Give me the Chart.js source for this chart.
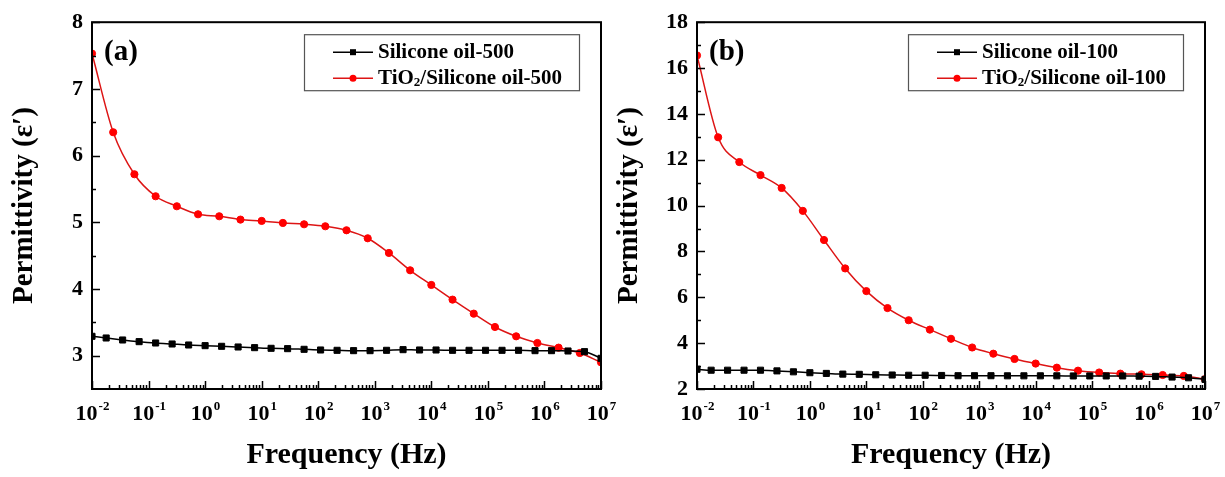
<!DOCTYPE html>
<html>
<head>
<meta charset="utf-8">
<script src="https://cdn.jsdelivr.net/npm/chart.js@4.4.1/dist/chart.umd.min.js"></script>
<style>
    html, body { margin: 0; padding: 0; background: #fff; }
    #wrap { position: relative; width: 1225px; height: 477px; }
    #chartA { position: absolute; left: 0; top: 0; }
    #chartB { position: absolute; left: 605px; top: 0; }
</style>
</head>
<body>
<div id="wrap">
    <canvas id="chartA" width="625" height="477"></canvas>
    <canvas id="chartB" width="620" height="477"></canvas>
</div>
<script>
/* =========================
   DATOS
========================= */
const FONT = "'Liberation Serif', 'Times New Roman', serif";

// frecuencias (Hz) - silicone oil (cuadrados)
const freqOil = [
    0.01, 0.0178, 0.0348, 0.0681, 0.1334, 0.261, 0.511, 1, 1.957, 3.831,
    7.499, 14.68, 28.73, 56.23, 110.1, 215.4, 421.7, 825.4, 1616, 3162,
    6190, 12115, 23714, 46416, 90852, 177828, 348070, 681292, 1333521, 2610157,
    5108970, 10000000
];

// frecuencias (Hz) - TiO2/silicone oil (circulos)
const freqTio2 = [
    0.01, 0.0237, 0.0562, 0.1334, 0.316, 0.75, 1.778, 4.217, 10, 23.71,
    56.23, 133.4, 316.2, 749.9, 1778, 4217, 10000, 23714, 56234, 133352,
    316228, 749894, 1778279, 4216965, 10000000
];

// (a)
const permOil500 = [
    3.29, 3.265, 3.235, 3.21, 3.19, 3.175, 3.16, 3.15, 3.14, 3.13,
    3.12, 3.11, 3.105, 3.095, 3.085, 3.08, 3.075, 3.075, 3.08, 3.09,
    3.085, 3.085, 3.08, 3.08, 3.08, 3.08, 3.08, 3.075, 3.075, 3.07,
    3.06, 2.96
];
const permTio2Oil500 = [
    7.53, 6.35, 5.72, 5.39, 5.24, 5.12, 5.09, 5.04, 5.02, 4.99,
    4.97, 4.94, 4.88, 4.76, 4.54, 4.28, 4.06, 3.84, 3.63, 3.43,
    3.29, 3.19, 3.12, 3.04, 2.9
];

// (b)
const permOil100 = [
    2.86, 2.82, 2.82, 2.82, 2.82, 2.79, 2.75, 2.71, 2.68, 2.65,
    2.64, 2.62, 2.61, 2.6, 2.6, 2.59, 2.58, 2.58, 2.58, 2.575,
    2.575, 2.575, 2.575, 2.57, 2.57, 2.57, 2.57, 2.56, 2.55, 2.52,
    2.49, 2.42
];
const permTio2Oil100 = [
    16.55, 12.98, 11.9, 11.33, 10.77, 9.77, 8.5, 7.26, 6.27, 5.53,
    5.0, 4.59, 4.19, 3.81, 3.54, 3.31, 3.11, 2.93, 2.8, 2.72,
    2.67, 2.64, 2.61, 2.57, 2.43
];

// ejes
const xTickValues = [1e-2, 1e-1, 1e0, 1e1, 1e2, 1e3, 1e4, 1e5, 1e6, 1e7];
const xTickBase = "10";
const xTickExponents = ["-2", "-1", "0", "1", "2", "3", "4", "5", "6", "7"];
const yTicksA = [3, 4, 5, 6, 7, 8];
const yMinorA = [3.5, 4.5, 5.5, 6.5, 7.5];
const yTicksB = [2, 4, 6, 8, 10, 12, 14, 16, 18];
const yMinorB = [3, 5, 7, 9, 11, 13, 15, 17];

/* =========================
   UTILIDADES
========================= */
function toPoints(xs, ys) {
    return xs.map((x, i) => ({ x: x, y: ys[i] }));
}

// texto con subindice (TiO₂)
function drawRichText(ctx, text, x, y, size) {
    const parts = text.split("₂");
    ctx.font = `bold ${size}px ${FONT}`;
    ctx.fillText(parts[0], x, y);
    let cx = x + ctx.measureText(parts[0]).width;
    if (parts.length > 1) {
        ctx.font = `bold ${Math.round(size * 0.62)}px ${FONT}`;
        ctx.fillText("2", cx, y + size * 0.22);
        cx += ctx.measureText("2").width;
        ctx.font = `bold ${size}px ${FONT}`;
        ctx.fillText(parts[1], cx, y);
    }
}

/* =========================
   MARCO, TICKS, ETIQUETAS, LEYENDA
========================= */
const originStyle = {
    id: "originStyle",
    afterDraw(chart, args, opts) {
        const { ctx, chartArea: ca, scales } = chart;
        const xs = scales.x;
        const ys = scales.y;

        ctx.save();
        ctx.strokeStyle = "#000";
        ctx.lineWidth = 1.5;

        // ticks hacia adentro - eje x
        ctx.beginPath();
        xTickValues.forEach((v, i) => {
            const px = Math.round(xs.getPixelForValue(v)) + 0.5;
            ctx.moveTo(px, ca.bottom);
            ctx.lineTo(px, ca.bottom - 8);
            if (i < xTickValues.length - 1) {
                for (let m = 2; m <= 9; m++) {
                    const mx = Math.round(xs.getPixelForValue(v * m)) + 0.5;
                    ctx.moveTo(mx, ca.bottom);
                    ctx.lineTo(mx, ca.bottom - 4);
                }
            }
        });

        // ticks hacia adentro - eje y
        opts.yMajor.forEach(v => {
            const py = Math.round(ys.getPixelForValue(v)) + 0.5;
            ctx.moveTo(ca.left, py);
            ctx.lineTo(ca.left + 8, py);
        });
        opts.yMinor.forEach(v => {
            const py = Math.round(ys.getPixelForValue(v)) + 0.5;
            ctx.moveTo(ca.left, py);
            ctx.lineTo(ca.left + 4, py);
        });
        ctx.stroke();

        // marco
        ctx.lineWidth = 2;
        ctx.strokeRect(ca.left, ca.top, ca.right - ca.left, ca.bottom - ca.top);

        // etiquetas eje x: 10 con exponente
        ctx.fillStyle = "#000";
        ctx.textAlign = "left";
        ctx.textBaseline = "alphabetic";
        xTickValues.forEach((v, i) => {
            const px = xs.getPixelForValue(v);
            ctx.font = `bold 22px ${FONT}`;
            const wb = ctx.measureText(xTickBase).width;
            ctx.font = `bold 13px ${FONT}`;
            const we = ctx.measureText(xTickExponents[i]).width;
            const x0 = px - (wb + we) / 2;
            ctx.font = `bold 22px ${FONT}`;
            ctx.fillText(xTickBase, x0, ca.bottom + 31);
            ctx.font = `bold 13px ${FONT}`;
            ctx.fillText(xTickExponents[i], x0 + wb + 1, ca.bottom + 21);
        });

        // etiqueta del panel
        ctx.textBaseline = "middle";
        ctx.font = `bold 29px ${FONT}`;
        ctx.fillText(opts.tag, ca.left + 12, ca.top + 30);

        // leyenda
        const box = { x: ca.right - 297, y: ca.top + 12, w: 275, h: 56 };
        ctx.lineWidth = 1.2;
        ctx.strokeStyle = "#555";
        ctx.strokeRect(box.x + 0.5, box.y + 0.5, box.w, box.h);

        chart.data.datasets.forEach((ds, i) => {
            const cy = box.y + 18 + i * 26;
            const mx = box.x + 49;

            ctx.strokeStyle = ds.borderColor;
            ctx.lineWidth = 1.5;
            ctx.beginPath();
            ctx.moveTo(box.x + 29, cy);
            ctx.lineTo(box.x + 69, cy);
            ctx.stroke();

            ctx.fillStyle = ds.pointBackgroundColor;
            if (ds.pointStyle === "rect") {
                ctx.fillRect(mx - 3, cy - 3, 6, 6);
            } else {
                ctx.beginPath();
                ctx.arc(mx, cy, 3.5, 0, Math.PI * 2);
                ctx.fill();
            }

            ctx.fillStyle = "#000";
            drawRichText(ctx, ds.label, box.x + 74, cy, 21);
        });

        ctx.restore();
    }
};

/* =========================
   GRAFICO
========================= */
function buildChart(canvasId, cfg) {
    const ctx = document.getElementById(canvasId).getContext("2d");

    return new Chart(ctx, {
        type: "line",
        data: {
            datasets: [
                {
                    label: cfg.oilLabel,
                    data: toPoints(freqOil, cfg.oil),
                    borderColor: "#000000",
                    backgroundColor: "#000000",
                    pointBackgroundColor: "#000000",
                    pointBorderColor: "#000000",
                    pointStyle: "rect",
                    pointRadius: 4.3,
                    pointBorderWidth: 1,
                    borderWidth: 1.5,
                    cubicInterpolationMode: "monotone"
                },
                {
                    label: cfg.tio2Label,
                    data: toPoints(freqTio2, cfg.tio2),
                    borderColor: "#dd1515",
                    backgroundColor: "#ff0000",
                    pointBackgroundColor: "#ff0000",
                    pointBorderColor: "#ff0000",
                    pointStyle: "circle",
                    pointRadius: 3.6,
                    pointBorderWidth: 1,
                    borderWidth: 1.5,
                    cubicInterpolationMode: "monotone"
                }
            ]
        },
        options: {
            responsive: false,
            animation: false,
            layout: {
                autoPadding: false,
                padding: { top: 14, right: cfg.padRight, left: 0, bottom: 0 }
            },
            plugins: {
                legend: { display: false },
                tooltip: { enabled: false },
                originStyle: {
                    tag: cfg.tag,
                    yMajor: cfg.yTicks,
                    yMinor: cfg.yMinor
                }
            },
            scales: {
                x: {
                    type: "logarithmic",
                    min: 1e-2,
                    max: 1e7,
                    afterBuildTicks: scale => {
                        scale.ticks = xTickValues.map(v => ({ value: v }));
                    },
                    afterFit: scale => { scale.height = 88; },
                    grid: { display: false, drawTicks: false },
                    border: { display: false },
                    ticks: { display: false },
                    title: {
                        display: true,
                        text: "Frequency (Hz)",
                        color: "#000",
                        font: { family: FONT, size: 30, weight: "bold" },
                        padding: { top: 0, bottom: 4 }
                    }
                },
                y: {
                    type: "linear",
                    min: cfg.yMin,
                    max: cfg.yMax,
                    afterBuildTicks: scale => {
                        scale.ticks = cfg.yTicks.map(v => ({ value: v }));
                    },
                    afterFit: scale => { scale.width = 92; },
                    grid: { display: false, drawTicks: false },
                    border: { display: false },
                    ticks: {
                        color: "#000",
                        padding: 9,
                        font: { family: FONT, size: 22, weight: "bold" }
                    },
                    title: {
                        display: true,
                        text: "Permittivity (ε′)",
                        color: "#000",
                        font: { family: FONT, size: 29, weight: "bold" },
                        padding: { top: 7, bottom: 0 }
                    }
                }
            }
        },
        plugins: [originStyle]
    });
}

buildChart("chartA", {
    tag: "(a)",
    oil: permOil500,
    tio2: permTio2Oil500,
    oilLabel: "Silicone oil-500",
    tio2Label: "TiO₂/Silicone oil-500",
    yMin: 2.5,
    yMax: 8,
    yTicks: yTicksA,
    yMinor: yMinorA,
    padRight: 24
});

buildChart("chartB", {
    tag: "(b)",
    oil: permOil100,
    tio2: permTio2Oil100,
    oilLabel: "Silicone oil-100",
    tio2Label: "TiO₂/Silicone oil-100",
    yMin: 2,
    yMax: 18,
    yTicks: yTicksB,
    yMinor: yMinorB,
    padRight: 20
});
</script>
</body>
</html>
